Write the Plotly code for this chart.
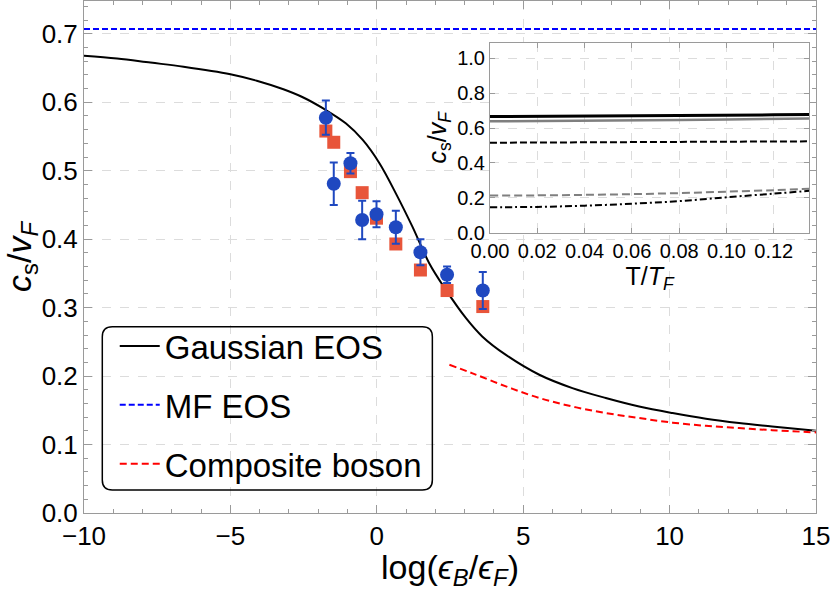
import plotly.graph_objects as go

# ---------------- data ----------------
gauss_x = [-10, -8.87, -7.73, -6.6, -5, -4.1, -3.19, -2.51, -1.83, -1.05, -0.48, 0.09, 0.65,
           1.22, 1.79, 2.36, 3.04, 3.6, 4.41, 5.55, 6.68, 7.82, 8.96, 10.1, 11.24, 12.37, 13.5, 15]
gauss_y = [0.668, 0.664, 0.658, 0.652, 0.641, 0.6315, 0.619, 0.607, 0.591, 0.569, 0.545, 0.511, 0.467,
           0.418, 0.365, 0.326, 0.285, 0.258, 0.231, 0.202, 0.1825, 0.168, 0.1556, 0.146, 0.1377, 0.1314, 0.1264, 0.120]

mf_x = [-10, 15]
mf_y = [0.7071, 0.7071]

boson_x = [2.48, 3.27, 4.41, 5.55, 6.68, 7.82, 8.96, 10.1, 11.24, 12.37, 13.5, 15]
boson_y = [0.2165, 0.204, 0.185, 0.168, 0.1556, 0.146, 0.1387, 0.132, 0.1274, 0.124, 0.121, 0.1177]

exp_x = [-1.74, -1.47, -0.9, -0.5, -0.01, 0.65, 1.49, 2.4, 3.62]
circ_y = [0.5775, 0.481, 0.511, 0.428, 0.4365, 0.4175, 0.381, 0.348, 0.325]
circ_err = [0.025, 0.031, 0.015, 0.028, 0.019, 0.024, 0.019, 0.012, 0.027]
sq_y = [0.558, 0.5416, 0.4987, 0.468, 0.4307, 0.393, 0.355, 0.325, 0.3016]

inset_T = [0.0, 0.02, 0.04, 0.06, 0.08, 0.10, 0.12, 0.135]
inset_black_solid = [0.666, 0.667, 0.668, 0.670, 0.672, 0.674, 0.676, 0.678]
inset_gray_solid = [0.639, 0.640, 0.642, 0.644, 0.646, 0.649, 0.652, 0.655]
inset_black_dash = [0.516, 0.517, 0.518, 0.519, 0.520, 0.521, 0.523, 0.524]
inset_gray_dash = [0.213, 0.214, 0.217, 0.221, 0.227, 0.235, 0.244, 0.2515]
inset_black_dashdot = [0.146, 0.148, 0.155, 0.166, 0.181, 0.203, 0.224, 0.240]

x_ticks = [-10, -5, 0, 5, 10, 15]
y_ticks = [0.0, 0.1, 0.2, 0.3, 0.4, 0.5, 0.6, 0.7]
inset_x_ticks = [0.0, 0.02, 0.04, 0.06, 0.08, 0.10, 0.12]
inset_y_ticks = [0.0, 0.2, 0.4, 0.6, 0.8, 1.0]

FONT = "Liberation Sans, Arial, sans-serif"
AXIS_GRAY = "#9a9a9a"
GRID = "#dcdcdc"

fig = go.Figure()

fig.add_trace(go.Scatter(x=gauss_x, y=gauss_y, mode="lines", name="Gaussian EOS",
                         line=dict(color="black", width=2, shape="spline"),
                         legendgroup="a"))
fig.add_trace(go.Scatter(x=mf_x, y=mf_y, mode="lines", name="MF EOS",
                         line=dict(color="#0000ff", width=2, dash="6px,3px"),
                         legendgroup="b"))
fig.add_trace(go.Scatter(x=boson_x, y=boson_y, mode="lines", name="Composite boson",
                         line=dict(color="#ff0000", width=2, dash="7px,4px", shape="spline"),
                         legendgroup="c"))
fig.add_trace(go.Scatter(x=exp_x, y=sq_y, mode="markers", showlegend=False,
                         marker=dict(symbol="square", size=13, color="#e8553a",
                                     line=dict(width=0))))
fig.add_trace(go.Scatter(x=exp_x, y=circ_y, mode="markers", showlegend=False,
                         marker=dict(symbol="circle", size=14, color="#1f48c0",
                                     line=dict(width=0)),
                         error_y=dict(type="data", array=circ_err, visible=True,
                                      color="#1f48c0", thickness=2, width=4)))

# inset
ins = dict(xaxis="x2", yaxis="y2", mode="lines", showlegend=False)
fig.add_trace(go.Scatter(x=inset_T, y=inset_black_solid, line=dict(color="black", width=3), **ins))
fig.add_trace(go.Scatter(x=inset_T, y=inset_gray_solid, line=dict(color="#7f7f7f", width=2.5), **ins))
fig.add_trace(go.Scatter(x=inset_T, y=inset_black_dash, line=dict(color="black", width=2, dash="7px,3px"), **ins))
fig.add_trace(go.Scatter(x=inset_T, y=inset_gray_dash, line=dict(color="#7f7f7f", width=2, dash="8px,4px", shape="spline"), **ins))
fig.add_trace(go.Scatter(x=inset_T, y=inset_black_dashdot, line=dict(color="black", width=2, dash="7px,3px,2px,3px", shape="spline"), **ins))

axis_common = dict(showline=True, linecolor=AXIS_GRAY, linewidth=1, mirror="allticks",
                   ticks="inside", tickcolor=AXIS_GRAY, zeroline=False, automargin=False,
                   ticklabeloverflow="allow",
                   showgrid=True, gridcolor=GRID, griddash="dash", gridwidth=1)

fig.update_layout(
    width=830, height=591,
    margin=dict(l=84, r=14, t=1, b=78),
    paper_bgcolor="white", plot_bgcolor="white",
    font=dict(family=FONT, color="black"),
    xaxis=dict(range=[-10, 15], tickvals=x_ticks, ticklen=8,
               tickfont=dict(size=26), minor=dict(ticks="inside", ticklen=4, dtick=1, tickcolor=AXIS_GRAY, showgrid=False),
               title=dict(text="log(<i>ϵ</i><sub><i>B</i></sub>/<i>ϵ</i><sub><i>F</i></sub>)",
                          font=dict(size=34), standoff=4),
               **axis_common),
    yaxis=dict(range=[0, 0.748], tickvals=y_ticks, tickformat=".1f", ticklen=8,
               tickfont=dict(size=26), minor=dict(ticks="inside", ticklen=4, dtick=0.02, tickcolor=AXIS_GRAY, showgrid=False),
               title=dict(text="<i>c</i><sub>s</sub>/<i>v</i><sub><i>F</i></sub>",
                          font=dict(size=34), standoff=2),
               **axis_common),
    xaxis2=dict(domain=[0.5546, 0.9908], anchor="y2", range=[0, 0.135], tickvals=inset_x_ticks,
                tickformat=".2f", ticklen=5, tickfont=dict(size=20),
                title=dict(text="T/<i>T</i><sub><i>F</i></sub>", font=dict(size=25), standoff=6),
                **axis_common),
    yaxis2=dict(domain=[0.5475, 0.9186], anchor="x2", range=[0, 1.09], tickvals=inset_y_ticks,
                tickformat=".1f", ticklen=5, tickfont=dict(size=20),
                title=dict(text="<i>c</i><sub>s</sub>/<i>v</i><sub><i>F</i></sub>", font=dict(size=25), standoff=3),
                **axis_common),
    legend=dict(x=0.042, y=0.381, xanchor="left", yanchor="top",
                bgcolor="rgba(0,0,0,0)", borderwidth=0,
                font=dict(size=33, family=FONT), tracegroupgap=13, itemwidth=40,
                traceorder="grouped"),
)

# rounded legend frame
x0, x1, y0, y1 = 0.025, 0.4759, 0.0449, 0.3639
rx, ry = 10 / 732, 10 / 512
path = (f"M {x0+rx},{y1} L {x1-rx},{y1} Q {x1},{y1} {x1},{y1-ry} L {x1},{y0+ry} "
        f"Q {x1},{y0} {x1-rx},{y0} L {x0+rx},{y0} Q {x0},{y0} {x0},{y0+ry} "
        f"L {x0},{y1-ry} Q {x0},{y1} {x0+rx},{y1} Z")
fig.add_shape(type="path", path=path, xref="paper", yref="paper",
              line=dict(color="black", width=1.5), fillcolor="rgba(0,0,0,0)")

fig.write_html("out.html", config={"displayModeBar": False},
               post_script="document.body.style.margin='0px';")
